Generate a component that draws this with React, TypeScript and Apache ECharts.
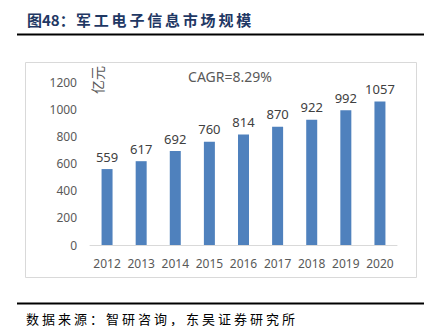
import React, { useEffect, useRef } from "react";
import * as echarts from "echarts";

const years = ["2012", "2013", "2014", "2015", "2016", "2017", "2018", "2019", "2020"];
const marketSize = [559, 617, 692, 760, 814, 870, 922, 992, 1057];
const titlePrefix = "图48：";
const titleMain = "军工电子信息市场规模";
const sourceText = "数据来源：智研咨询，东吴证券研究所";
const unitText = "亿元";
const cagrText = "CAGR=8.29%";

export default function App() {
  const ref = useRef<HTMLDivElement>(null);
  useEffect(() => {
    if (!ref.current) return;
    const chart = echarts.init(ref.current, null, { renderer: "svg" });
    const cjk = "'Noto Sans CJK SC', sans-serif";
    const titleChars = titleMain.split("").map((ch, i) => ({
      type: "text",
      left: 76 + i * 17.8,
      top: 12,
      style: { text: ch, font: `bold 15px ${cjk}`, fill: "#1f3864" },
    }));
    const sourceChars = sourceText.split("").map((ch, i) => ({
      type: "text",
      left: 26 + i * 16,
      top: 312,
      style: { text: ch, font: `13px ${cjk}`, fill: "#000" },
    }));
    chart.setOption({
      animation: false,
      grid: { left: 90, right: 40, top: 82, bottom: 89 },
      xAxis: {
        type: "category",
        data: years,
        axisLine: { lineStyle: { color: "#d9d9d9" } },
        axisTick: { show: false },
        axisLabel: { color: "#595959", fontSize: 12, fontFamily: "Noto Sans", margin: 12, interval: 0 },
      },
      yAxis: {
        type: "value",
        min: 0,
        max: 1200,
        interval: 200,
        splitLine: { show: false },
        axisLine: { show: false },
        axisTick: { show: false },
        axisLabel: {
          color: "#595959",
          fontSize: 12,
          fontFamily: "Noto Sans",
          margin: 13,
          formatter: (v: number) => String(v),
        },
      },
      series: [
        {
          type: "bar",
          data: marketSize,
          barWidth: 11,
          itemStyle: { color: "#4f81bd" },
          label: {
            show: true,
            position: "top",
            distance: 6,
            color: "#404040",
            fontSize: 13,
            fontFamily: "Noto Sans",
          },
        },
      ],
      graphic: [
        {
          type: "rect",
          shape: { x: 25.5, y: 62.5, width: 391, height: 215 },
          style: { fill: "none", stroke: "#d9d9d9", lineWidth: 1 },
          z: -1,
        },
        {
          type: "line",
          shape: { x1: 17, y1: 34.5, x2: 424, y2: 34.5 },
          style: { stroke: "#000", lineWidth: 2 },
        },
        {
          type: "line",
          shape: { x1: 17, y1: 303.5, x2: 424, y2: 303.5 },
          style: { stroke: "#000", lineWidth: 2 },
        },
        {
          type: "text",
          left: 27,
          top: 12,
          style: { text: titlePrefix, font: `bold 15px ${cjk}`, fill: "#1f3864" },
        },
        ...titleChars,
        ...sourceChars,
        {
          type: "text",
          x: 97,
          y: 80,
          rotation: Math.PI / 2,
          style: {
            text: unitText,
            font: `14px ${cjk}`,
            fill: "#595959",
            align: "center",
            verticalAlign: "middle",
          },
        },
        {
          type: "text",
          x: 230,
          y: 76,
          style: {
            text: cagrText,
            font: "14px 'Noto Sans'",
            fill: "#595959",
            align: "center",
            verticalAlign: "middle",
          },
        },
      ],
    });
    return () => chart.dispose();
  }, []);
  return <div ref={ref} style={{ width: 437, height: 334, margin: -8 }} />;
}
